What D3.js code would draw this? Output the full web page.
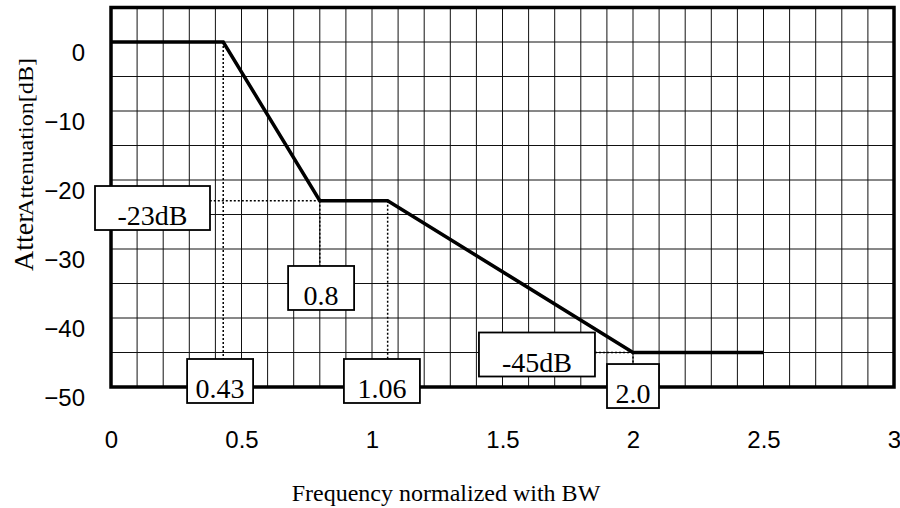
<!DOCTYPE html>
<html>
<head>
<meta charset="utf-8">
<script src="https://cdn.jsdelivr.net/npm/d3@7"></script>
<style>
  body { margin: 0; background: #fff; }
  svg { display: block; }
</style>
</head>
<body>
<svg id="canvas"></svg>
<script>
// response curve breakpoints: normalized frequency vs attenuation
const freq = [0, 0.43, 0.8, 1.06, 2.0, 2.5];
const atten = [0, 0, -23, -23, -45, -45];

const xTicks = [0, 0.5, 1, 1.5, 2, 2.5, 3];
const yTicks = [0, -10, -20, -30, -40, -50];

// boxed labels: text plus the box centre in data units
const labelText = ["-23dB", "0.8", "0.43", "1.06", "-45dB", "2.0"];
const labelX = [0.159, 0.805, 0.418, 1.038, 1.632, 2.0];
const labelY = [-24.06, -35.65, -49.13, -49.13, -45.29, -49.86];

// dotted guides from a breakpoint to its label
const guideFrom = [[0.43, 0], [0.8, -23], [0.8, -23], [1.06, -23], [2.0, -45], [2.0, -45]];
const guideTo = [[0.43, -49.13], [0.159, -23], [0.8, -35.65], [1.06, -49.13], [1.632, -45], [2.0, -49.86]];

const width = 900;
const height = 508;
const plot = { left: 111, right: 894, top: 7.5, bottom: 387 };

const svg = d3.select("#canvas")
    .attr("width", width)
    .attr("height", height);

const x = d3.scaleLinear().domain([0, 3]).range([plot.left, plot.right]);
const y = d3.scaleLinear().domain([-50, 5]).range([plot.bottom, plot.top]);

// grid
const grid = svg.append("g").classed("grid", true);
grid.selectAll("line.v")
    .data(d3.range(0, 31).map(i => i / 10))
    .join("line")
    .attr("x1", d => x(d)).attr("x2", d => x(d))
    .attr("y1", plot.top).attr("y2", plot.bottom)
    .attr("stroke", "#111").attr("stroke-width", 1);
grid.selectAll("line.h")
    .data(d3.range(-50, 5.01, 5))
    .join("line")
    .attr("x1", plot.left).attr("x2", plot.right)
    .attr("y1", d => y(d)).attr("y2", d => y(d))
    .attr("stroke", "#111").attr("stroke-width", 1);

// dotted guides
svg.append("g").selectAll("line")
    .data(d3.zip(guideFrom, guideTo))
    .join("line")
    .attr("x1", d => x(d[0][0])).attr("y1", d => y(d[0][1]))
    .attr("x2", d => x(d[1][0])).attr("y2", d => y(d[1][1]))
    .attr("stroke", "#000")
    .attr("stroke-width", 1.5)
    .attr("stroke-dasharray", "2,2");

// frame
svg.append("rect")
    .attr("x", plot.left).attr("y", plot.top)
    .attr("width", plot.right - plot.left)
    .attr("height", plot.bottom - plot.top)
    .attr("fill", "none")
    .attr("stroke", "#000")
    .attr("stroke-width", 3.5);

// curve
const line = d3.line()
    .x(d => x(d[0]))
    .y(d => y(d[1]));
svg.append("path")
    .attr("d", line(d3.zip(freq, atten)))
    .attr("fill", "none")
    .attr("stroke", "#000")
    .attr("stroke-width", 3.5)
    .attr("stroke-linejoin", "miter");

// axes (labels only)
const axisX = svg.append("g")
    .attr("transform", `translate(0, ${plot.bottom})`)
    .call(d3.axisBottom(x).tickValues(xTicks).tickSize(0).tickPadding(44)
        .tickFormat(d3.format("~g")));
const axisY = svg.append("g")
    .attr("transform", `translate(${plot.left}, 0)`)
    .call(d3.axisLeft(y).tickValues(yTicks).tickSize(0).tickPadding(26));
[axisX, axisY].forEach(g => {
    g.select(".domain").remove();
    g.selectAll("text")
        .attr("font-family", "'Liberation Sans', Arial, sans-serif")
        .attr("font-size", 24)
        .attr("fill", "#000");
});
axisY.selectAll("text").attr("y", 11);

// boxed labels
const boxW = [115, 66, 66, 76, 116, 52];
const boxH = 44;
const boxes = svg.append("g").selectAll("g")
    .data(labelText.map((t, i) => ({ t, cx: x(labelX[i]), cy: y(labelY[i]), w: boxW[i] })))
    .join("g")
    .attr("transform", d => `translate(${d.cx}, ${d.cy})`);
boxes.append("rect")
    .attr("x", d => -d.w / 2).attr("y", -boxH / 2)
    .attr("width", d => d.w).attr("height", boxH)
    .attr("fill", "#fff")
    .attr("stroke", "#000")
    .attr("stroke-width", 1.8);
boxes.append("text")
    .attr("text-anchor", "middle")
    .attr("y", boxH / 2 - 5)
    .attr("font-family", "'Liberation Serif', 'Times New Roman', serif")
    .attr("font-size", 28)
    .text(d => d.t);

// axis titles
const serif = "'Liberation Serif', 'Times New Roman', serif";
svg.append("text")
    .attr("x", 446).attr("y", 501)
    .attr("text-anchor", "middle")
    .attr("font-family", serif)
    .attr("font-size", 24)
    .text("Frequency normalized with BW");
svg.append("text")
    .attr("transform", "translate(33, 271) rotate(-90)")
    .attr("font-family", serif)
    .attr("font-size", 28)
    .text("Atter");
svg.append("text")
    .attr("transform", "translate(33, 216) rotate(-90)")
    .attr("font-family", serif)
    .attr("font-size", 21)
    .attr("textLength", 158)
    .attr("lengthAdjust", "spacingAndGlyphs")
    .text("Attenuation[dB]");
</script>
</body>
</html>
